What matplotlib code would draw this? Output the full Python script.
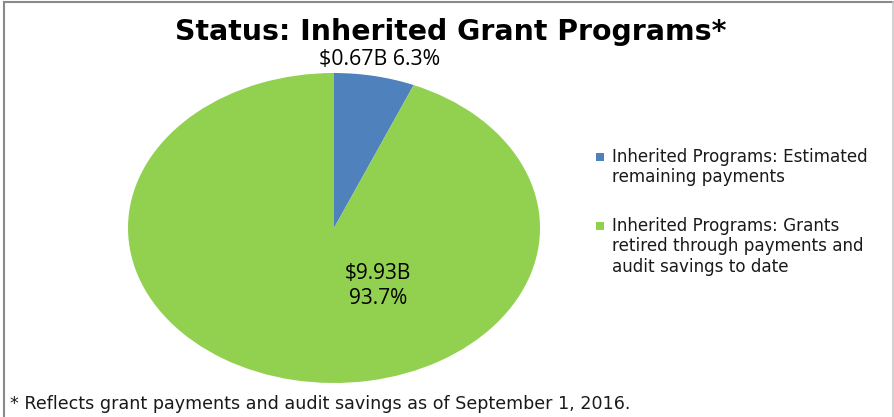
import matplotlib.pyplot as plt
from matplotlib.patches import Rectangle
import numpy as np

# data
categories = ["Inherited Programs: Estimated\nremaining payments",
              "Inherited Programs: Grants\nretired through payments and\naudit savings to date"]
values = [0.67, 9.93]   # $ billions
colors = ["#4F81BD", "#92D050"]
title = "Status: Inherited Grant Programs*"
footnote = "* Reflects grant payments and audit savings as of September 1, 2016."

W, H = 895, 417
fig = plt.figure(figsize=(W / 100, H / 100), dpi=100)

def fx(px):
    return px / W

def fy(py):
    return 1 - py / H

# pie is stretched horizontally like the original (ellipse)
ax = fig.add_axes([fx(128), fy(383), 412 / W, 310 / H])
wedges, _ = ax.pie(values, colors=colors, startangle=90, counterclock=False,
                   radius=1, wedgeprops=dict(linewidth=0))
ax.set_aspect('auto')
ax.set_xlim(-1, 1)
ax.set_ylim(-1, 1)
ax.axis('off')

total = sum(values)
pcts = [v / total * 100 for v in values]

# blue slice label, outside along its mid angle
w = wedges[0]
mid = np.deg2rad((w.theta1 + w.theta2) / 2)
ax.text(1.13 * np.cos(mid), 1.11 * np.sin(mid),
        f"\\${values[0]:.2f}B {pcts[0]:.1f}%",
        ha='center', va='center', fontsize=15.3, family='Open Sans', color='black')

# green slice label, inside
ax.text(0.215, -0.375, f"\\${values[1]:.2f}B\n{pcts[1]:.1f}%",
        ha='center', va='center', fontsize=15, family='Open Sans',
        color='black', linespacing=1.25)

fig.text(fx(451), fy(32), title, ha='center', va='center', fontsize=20.4,
         fontweight='bold', family='DejaVu Sans', color='black')

# legend drawn by hand so the square sits on the first line
leg_y = [157, 226]
for lab, c, y in zip(categories, colors, leg_y):
    fig.add_artist(Rectangle((fx(596), fy(y + 4)), 8 / W, 8 / H,
                             transform=fig.transFigure, facecolor=c, edgecolor='none'))
    fig.text(fx(612), fy(y - 9), lab, ha='left', va='top', fontsize=12.1,
             family='DejaVu Sans', color='#1a1a1a', linespacing=1.17)

fig.text(fx(10), fy(404), footnote, ha='left', va='center', fontsize=12.6,
         family='DejaVu Sans', color='#1a1a1a')

# chart frame
fig.add_artist(plt.Line2D([fx(4), fx(4)], [0, fy(2)], transform=fig.transFigure,
                          color='#8a8a8a', lw=1.5))
fig.add_artist(plt.Line2D([fx(4), fx(893)], [fy(2), fy(2)], transform=fig.transFigure,
                          color='#8a8a8a', lw=1.5))
fig.add_artist(plt.Line2D([fx(893), fx(893)], [0, fy(2)], transform=fig.transFigure,
                          color='#c8c8c8', lw=1.2))

fig.savefig("out.png", dpi=100)
